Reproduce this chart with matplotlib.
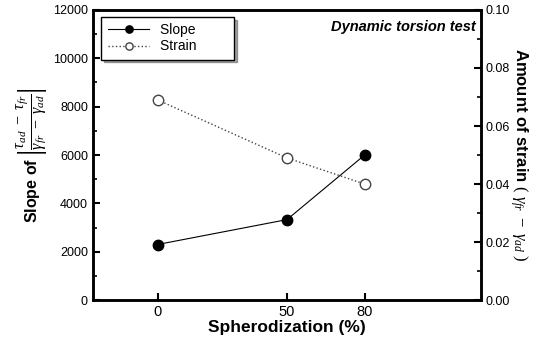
import matplotlib
matplotlib.use("Agg")
import matplotlib.pyplot as plt
from matplotlib.ticker import MultipleLocator

plt.rcParams['font.family'] = ['Liberation Sans', 'DejaVu Sans']
plt.rcParams['mathtext.fontset'] = 'custom'
plt.rcParams['mathtext.rm'] = 'Liberation Serif'
plt.rcParams['mathtext.it'] = 'Liberation Serif:italic'

spherodization = [0, 50, 80]
slope = [2300, 3330, 6000]
strain = [0.069, 0.049, 0.040]
x_ticks = [0, 50, 80]

fig = plt.figure(figsize=(5.43, 3.43), dpi=100)
ax = fig.add_axes([0.171, 0.125, 0.715, 0.846])
ax2 = ax.twinx()

l1, = ax.plot(spherodization, slope, '-', color='black', lw=0.8,
              marker='o', markersize=7.5, markerfacecolor='black', label='Slope        ')
l2, = ax2.plot(spherodization, strain, ':', color='#444444', lw=1.0,
               marker='o', markersize=7.5, markerfacecolor='white',
               markeredgecolor='#444444', label='Strain        ')

ax.set_xlim(-25, 125)
ax.set_ylim(0, 12000)
ax2.set_ylim(0, 0.10)
ax.set_xticks(x_ticks)
ax.yaxis.set_major_locator(MultipleLocator(2000))
ax.yaxis.set_minor_locator(MultipleLocator(1000))
ax2.yaxis.set_major_locator(MultipleLocator(0.02))
ax2.yaxis.set_minor_locator(MultipleLocator(0.01))
ax2.set_yticklabels([f"{v:.2f}" for v in ax2.get_yticks()])

for a in (ax, ax2):
    for s in a.spines.values():
        s.set_linewidth(1.8)
ax.tick_params(axis='y', which='major', direction='in', length=5, width=1.5, labelsize=9)
ax.tick_params(axis='x', which='major', direction='in', length=5, width=1.5, labelsize=10.5)
ax.tick_params(axis='y', which='minor', direction='in', length=3, width=1.2)
ax2.tick_params(axis='y', which='major', direction='in', length=5, width=1.5, labelsize=9)
ax2.tick_params(axis='y', which='minor', direction='in', length=3, width=1.2)

ax.set_xlabel('Spherodization (%)', fontsize=12.5, fontweight='bold', labelpad=1)
ax.set_ylabel(r'Slope of $\left|\dfrac{\tau_{ad}\ -\ \tau_{fr}}{\gamma_{fr}\ -\ \gamma_{ad}}\right|$',
              fontsize=11.5, fontweight='bold', labelpad=2)
ax2.set_ylabel(r'Amount of strain $(\ \gamma_{fr}\ -\ \gamma_{ad}\ )$',
               fontsize=12, fontweight='bold', rotation=270, labelpad=14)

ax.text(0.985, 0.965, 'Dynamic torsion test', transform=ax.transAxes,
        ha='right', va='top', fontsize=10.5, fontweight='bold', style='italic')

leg = ax.legend(handles=[l1, l2], loc='upper left', bbox_to_anchor=(0.015, 0.985),
                fontsize=10, frameon=True, fancybox=False, shadow=True,
                edgecolor='black', handlelength=3.0, borderpad=0.45, labelspacing=0.15,
                markerscale=0.7, borderaxespad=0.2, handletextpad=0.8)
leg.get_frame().set_linewidth(1.0)

fig.savefig('out.png', dpi=100)
